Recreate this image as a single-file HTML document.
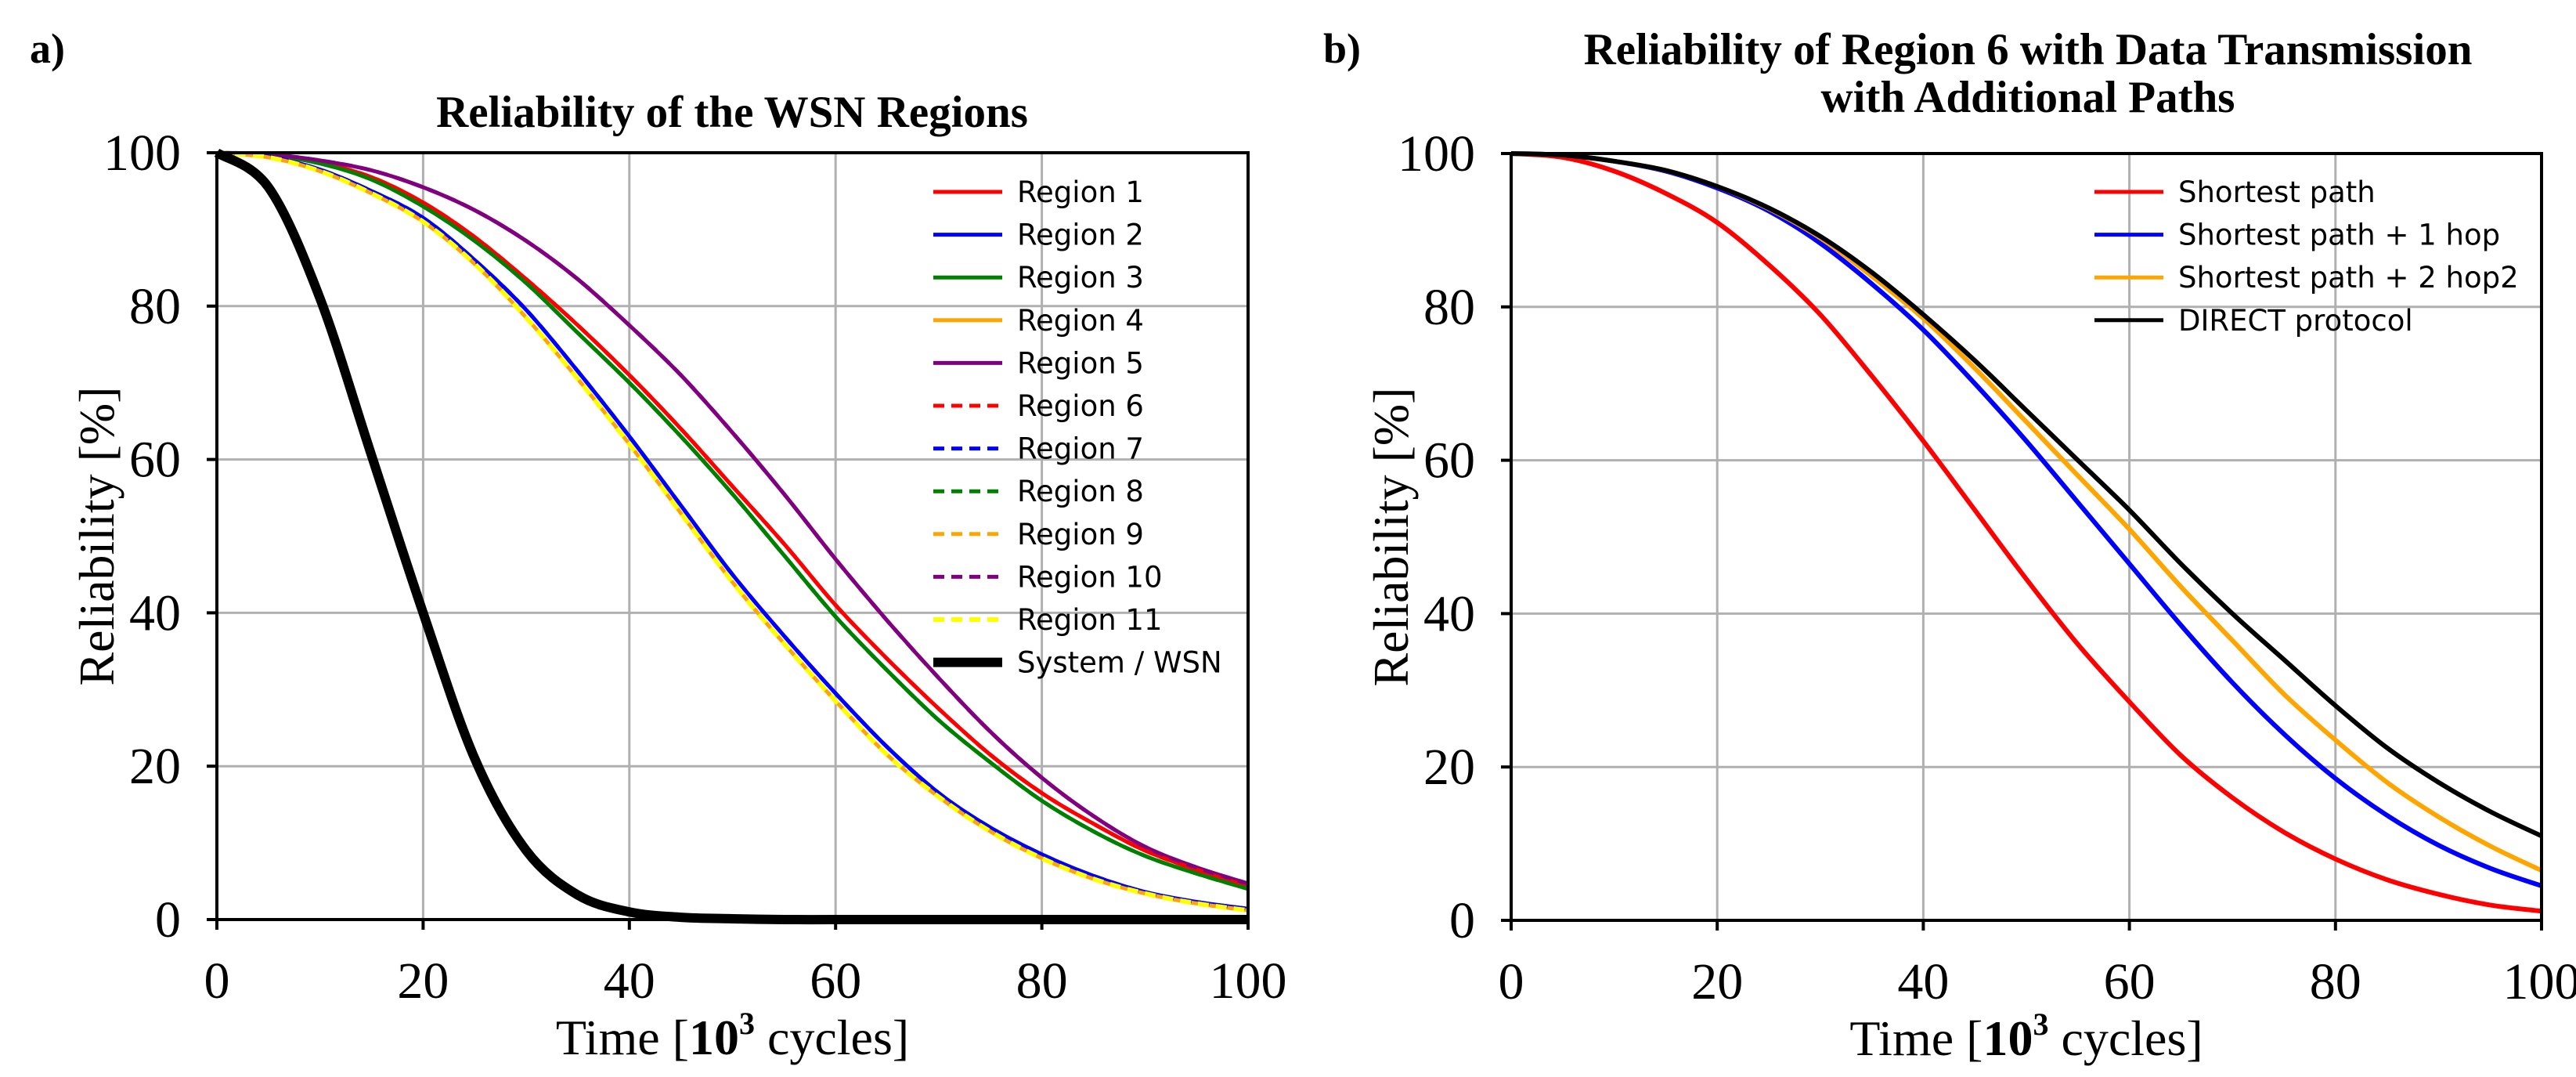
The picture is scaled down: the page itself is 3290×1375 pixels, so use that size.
<!DOCTYPE html>
<html><head><meta charset="utf-8"><style>
html,body{margin:0;padding:0;background:#fff}
svg{display:block}
</style></head><body>
<svg id="fig" width="3290" height="1375" viewBox="0 0 3290 1375" xmlns="http://www.w3.org/2000/svg">
<text x="38" y="80" font-family="Liberation Serif, serif" font-weight="bold" font-size="54">a)</text>
<text x="935" y="162" text-anchor="middle" font-family="Liberation Serif, serif" font-weight="bold" font-size="57">Reliability of the WSN Regions</text>
<text x="1690" y="80" font-family="Liberation Serif, serif" font-weight="bold" font-size="54">b)</text>
<text x="2590" y="82" text-anchor="middle" font-family="Liberation Serif, serif" font-weight="bold" font-size="57">Reliability of Region 6 with Data Transmission</text>
<text x="2590" y="143" text-anchor="middle" font-family="Liberation Serif, serif" font-weight="bold" font-size="57">with Additional Paths</text>
<g id="chartA"></g>
<g id="chartB"></g>
</svg>
<script>
const timeX = [0,5,10,15,20,25,30,35,40,45,50,55,60,65,70,75,80,85,90,95,100];
const xTicks = [0,20,40,60,80,100];
const yTicks = [0,20,40,60,80,100];
const region1 = [100,99.7,98.7,96.8,93.5,89,83.5,77.5,71,64,56.5,49,41,34,27.5,21.5,16.5,12.5,9,6.5,4.3];
const region2 = [100,99.5,97.8,95,91.5,86,79.5,71.5,63,54,45,37,29.5,22.5,16.5,12,8.5,5.7,3.6,2.3,1.4];
const region3 = [100,99.7,98.6,96.5,93,88.5,83,76.5,70,63,55.5,47.5,39.5,32.5,26,20.5,15.5,11.5,8.3,6,4];
const region4 = [100,99.4,97.6,94.7,91,85.5,78.5,70.5,62,53,44,36,28.5,21.5,16,11.5,8,5.3,3.4,2.1,1.2];
const region5 = [100,99.8,99,97.7,95.5,92.5,88.5,83.5,77.5,71,63.5,55.5,47,39,31.5,24.5,18.5,13.5,9.5,6.8,4.7];
const systemWSN = [100,95.5,81,60.5,40,21,9,3.2,1,0.3,0.1,0,0,0,0,0,0,0,0,0,0];
const shortestPath = [100,99.5,97.7,94.8,91,85.5,79,71,62.5,53.5,44.5,36,28.5,21.5,16,11.5,8,5.3,3.4,2,1.2];
const plus1hop = [100,99.8,99,97.7,95.5,92.5,88.3,83,77,70,62.5,54.5,46.5,38.5,31,24.3,18.5,13.7,9.8,6.8,4.5];
const plus2hop = [100,99.8,99,97.8,95.7,92.8,89,84,78.5,72,65,58,51,43.5,36.5,29.5,23.5,18,13.5,9.7,6.5];
const directProto = [100,99.8,99,97.8,95.7,92.9,89.2,84.5,79,73,66.5,60,53.5,46.5,40,34,28,22.5,18,14.2,11];

const NS='http://www.w3.org/2000/svg';
function mk(tag, attrs, parent){const e=document.createElementNS(NS,tag);for(const k in attrs)e.setAttribute(k,attrs[k]);parent.appendChild(e);return e;}
function smoothPath(pts){
  let d='M'+pts[0][0].toFixed(1)+','+pts[0][1].toFixed(1);
  for(let i=0;i<pts.length-1;i++){
    const p0=pts[Math.max(0,i-1)],p1=pts[i],p2=pts[i+1],p3=pts[Math.min(pts.length-1,i+2)];
    const c1=[p1[0]+(p2[0]-p0[0])/6,p1[1]+(p2[1]-p0[1])/6];
    const c2=[p2[0]-(p3[0]-p1[0])/6,p2[1]-(p3[1]-p1[1])/6];
    d+=' C'+c1[0].toFixed(1)+','+c1[1].toFixed(1)+' '+c2[0].toFixed(1)+','+c2[1].toFixed(1)+' '+p2[0].toFixed(1)+','+p2[1].toFixed(1);
  }
  return d;
}
function drawChart(g, box, series, legend){
  const xs=v=>box.x0+(box.x1-box.x0)*v/100;
  const ys=v=>box.y1-(box.y1-box.y0)*v/100;
  for(const t of xTicks){
    const l=mk('line',{x1:xs(t),x2:xs(t),y1:box.y0,y2:box.y1,stroke:'#b0b0b0','stroke-width':3},g);
    
    
    const tk=mk('line',{x1:xs(t),x2:xs(t),y1:box.y1,y2:box.y1+13,stroke:'#000','stroke-width':4},g);
    
    
    const tx=mk('text',{x:xs(t),y:box.y1+100,'text-anchor':'middle','font-family':'Liberation Serif, serif','font-size':66},g);
    tx.textContent=t;
    
    
  }
  for(const t of yTicks){
    const l=mk('line',{x1:box.x0,x2:box.x1,y1:ys(t),y2:ys(t),stroke:'#b0b0b0','stroke-width':3},g);
    
    
    const tk=mk('line',{x1:box.x0-13,x2:box.x0,y1:ys(t),y2:ys(t),stroke:'#000','stroke-width':4},g);
    
    
    const tx=mk('text',{x:box.x0-46,y:ys(t)+22,'text-anchor':'end','font-family':'Liberation Serif, serif','font-size':66},g);
    tx.textContent=t;
    
    
  }
  for(const s of series){
    const pts=timeX.map((t,i)=>[xs(t),ys(s.v[i])]);
    const p=mk('path',{d:smoothPath(pts),fill:'none',stroke:s.c,'stroke-width':s.w,'stroke-dasharray':s.dash||'none','stroke-linejoin':'round'},g);
    
    
  }
  const fr=mk('rect',{x:box.x0,y:box.y0,width:box.x1-box.x0,height:box.y1-box.y0,fill:'none',stroke:'#000','stroke-width':4},g);
  
  
  const xt=mk('text',{x:(box.x0+box.x1)/2,y:box.y1+172,'text-anchor':'middle','font-family':'Liberation Serif, serif','font-size':64},g);
  xt.innerHTML='Time [<tspan font-weight="bold">10</tspan><tspan font-weight="bold" font-size="40" dy="-26">3</tspan><tspan dy="26"> cycles]</tspan>';
  
  
  const yt=mk('text',{x:0,y:0,'text-anchor':'middle','font-family':'Liberation Serif, serif','font-size':64,transform:'translate('+(box.x0-132)+','+((box.y0+box.y1)/2)+') rotate(-90)'},g);
  yt.textContent='Reliability [%]';
  
  
  const lg=mk('g',{},g);
  
  
  legend.items.forEach((s,i)=>{
    const y=legend.y+i*54.6;
    const l=mk('line',{x1:legend.lx,x2:legend.lx+88,y1:y,y2:y,stroke:s.c,'stroke-width':s.lw||s.w,'stroke-dasharray':s.dash||'none'},lg);
    
    
    const t=mk('text',{x:legend.lx+107,y:y+13,'font-family':'DejaVu Sans, sans-serif','font-size':37},lg);
    t.textContent=s.label;
    
    
  });
}
const D='14,9';
const seriesA=[
 {name:'region-1',label:'Region 1',v:region1,c:'#ff0000',w:5},
 {name:'region-3',label:'Region 3',v:region3,c:'#008000',w:5},
 {name:'region-5',label:'Region 5',v:region5,c:'#800080',w:5},
 {name:'region-2',label:'Region 2',v:region2,c:'#0000ff',w:5},
 {name:'region-4',label:'Region 4',v:region4,c:'#ffa500',w:5},
 {name:'region-6',label:'Region 6',v:region1,c:'#ff0000',w:5,dash:D},
 {name:'region-8',label:'Region 8',v:region3,c:'#008000',w:5,dash:D},
 {name:'region-10',label:'Region 10',v:region5,c:'#800080',w:5,dash:D},
 {name:'region-7',label:'Region 7',v:region2,c:'#0000ff',w:5,dash:D},
 {name:'region-9',label:'Region 9',v:region4,c:'#ffa500',w:5,dash:D},
 {name:'region-11',label:'Region 11',v:region4,c:'#ffff00',w:6,dash:D},
 {name:'system-wsn',label:'System / WSN',v:systemWSN,c:'#000',w:12}
];
const legA=['Region 1','Region 2','Region 3','Region 4','Region 5','Region 6','Region 7','Region 8','Region 9','Region 10','Region 11','System / WSN'].map(n=>seriesA.find(s=>s.label===n));
drawChart(document.getElementById('chartA'),{x0:277,x1:1594,y0:195,y1:1174},seriesA,{lx:1192,y:245,items:legA});
const seriesB=[
 {name:'shortest-path',label:'Shortest path',v:shortestPath,c:'#ff0000',w:6},
 {name:'shortest-path-1-hop',label:'Shortest path + 1 hop',v:plus1hop,c:'#0000ff',w:6},
 {name:'shortest-path-2-hop',label:'Shortest path + 2 hop2',v:plus2hop,c:'#ffa500',w:6},
 {name:'direct-protocol',label:'DIRECT protocol',v:directProto,c:'#000',w:6}
];
drawChart(document.getElementById('chartB'),{x0:1930,x1:3246,y0:196,y1:1175},seriesB,{lx:2675,y:245,items:seriesB.map(s=>Object.assign({},s,{lw:5}))});
</script>
</body></html>
